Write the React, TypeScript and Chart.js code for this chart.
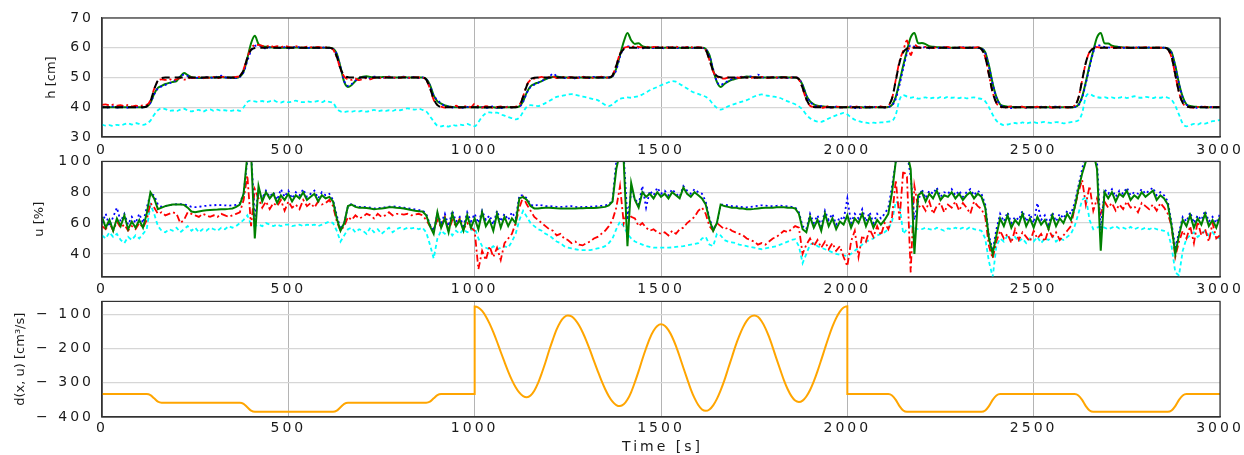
import { useEffect, useRef } from 'react';
import { Chart, registerables } from 'chart.js';

Chart.register(...registerables);

const FONT = "'DejaVu Sans', 'Liberation Sans', sans-serif";
const TXT = '#1a1a1a';

// ---------- time grid (10 s step) ----------
const T = Array.from({ length: 301 }, (_, i) => i * 10);
const X_TICKS = [0, 500, 1000, 1500, 2000, 2500, 3000];

// ---------- panel 1 : h [cm] ----------
const H_TICKS = [30, 40, 50, 60, 70];
const H_REF = [
  40,40,40,40,40,40,40,40,40,40,
  40,40,40.3,42,46,49,49.8,50,50,50,
  50,50,50,50,50,50,50,50,50,50,
  50,50,50,50,50,50,50,50.5,52.5,56.5,
  59.3,59.9,60,60,60,60,60,60,60,60,
  60,60,60,60,60,60,60,60,60,60,
  60,60,59.5,57,53,50.7,50.1,50,50,50,
  50,50,50,50,50,50,50,50,50,50,
  50,50,50,50,50,50,50,49.3,46.5,42.8,
  40.7,40.1,40,40,40,40,40,40,40,40,
  40,40,40,40,40,40,40,40,40,40,
  40,40,40.6,43.5,47.3,49.4,49.9,50,50,50,
  50,50,50,50,50,50,50,50,50,50,
  50,50,50,50,50,50,50,50.7,54,57.8,
  59.5,59.9,60,60,60,60,60,60,60,60,
  60,60,60,60,60,60,60,60,60,60,
  60,60,59.3,56,52.2,50.5,50.1,50,50,50,
  50,50,50,50,50,50,50,50,50,50,
  50,50,50,50,50,50,50,49.4,46.5,42.7,
  40.6,40.1,40,40,40,40,40,40,40,40,
  40,40,40,40,40,40,40,40,40,40,
  40,40.6,43,49,55,58.5,59.7,60,60,60,
  60,60,60,60,60,60,60,60,60,60,
  60,60,60,60,60,60,59.5,57,51,45,
  41.5,40.3,40,40,40,40,40,40,40,40,
  40,40,40,40,40,40,40,40,40,40,
  40,40.5,43,49,55,58.5,59.7,60,60,60,
  60,60,60,60,60,60,60,60,60,60,
  60,60,60,60,60,60,59.5,57,51,45,
  41.5,40.3,40,40,40,40,40,40,40,40,
  40,
];
const H_GREEN = [
  40,40,40,40,40,40,40,40,40,40,
  40,40,40.2,41.5,44.5,46.5,47.2,47.8,48.2,48.5,
  48.8,50.3,51.5,50.8,50.1,49.9,49.8,49.9,50,50,
  50,50.1,50.2,50,50,49.9,49.8,50.3,52,56.5,
  61.5,64,61.2,60.5,60.3,60.2,60.1,60,60,60,
  60,60,60.1,60,60,59.9,60,60,60,60,
  60,60,59.7,58,53.5,48.5,46.8,47.5,48.8,49.8,
  50.3,50.4,50.2,50,50,50.1,50.2,50,50,50,
  50,50.1,50,50,50,50,50,49.5,47.5,44,
  42,41.2,40.6,40.3,40.1,40,40,40,40,40,
  40,40,40,39.9,40,40,39.8,39.9,40,40,
  40,40,40.3,42,45,47,47.8,48.3,48.8,49.4,
  49.9,50.2,50.3,50.1,50,50,50,49.8,50,50,
  50,50,50,50,50,50,50,50.5,53,57.5,
  62,65,62.5,61.3,61.5,60.5,60.2,60.1,60,60,
  60,60,60.1,60,60,60,59.9,60,60,60,
  60,60,59.6,57.5,52.5,48.5,46.8,47.8,48.6,49.2,
  49.6,49.9,50.1,50.3,50.2,50.1,50,50,50,50,
  50,50,50.1,50.2,50,50,50,49.5,47.5,44,
  42,41,40.5,40.3,40.2,40.1,40,40,40,40,
  40,40,40,40,40,39.9,40,40,40,40,
  40,40.1,40.8,43.5,48.5,54,59,63.5,65,61.5,
  61.6,61.2,60.5,60.3,60.2,60.1,60,60,60,60,
  60,60,60,60,60,60,59.8,58.5,54,48,
  43.5,41,40.4,40.2,40.1,40,40,40,40,40,
  40,40,40,40,40,40,40,40,40,40,
  40,40.1,40.8,43.5,48.5,54,59,63.5,65,61.5,
  61.4,60.7,60.4,60.2,60.1,60,60,60,60,60,
  60,60,60,60,60,60,59.8,58.5,54,48,
  43.5,41,40.4,40.2,40.1,40,40,40,40,40,
  40,
];
const H_BLUE = [
  40.2,39.8,40.1,40.3,39.9,40,40.2,39.8,40.1,40,
  40.2,39.9,40.3,41.5,44.3,46.3,47,47.5,48,48.6,
  49.3,50.3,51,50.5,49.9,49.7,50.1,49.8,50.2,50,
  49.8,50.3,50.6,50.1,49.7,50,49.8,50.2,51.8,55.5,
  59,60.6,60.8,60.2,59.8,60.1,60.3,59.9,60,60.2,
  59.8,60,60.3,60.1,59.9,59.8,60.2,60,59.9,60.1,
  60,59.9,59.6,57.8,53.5,48.8,47.2,47.8,49,49.8,
  50.2,50,49.7,50.3,50.1,49.8,50,50.3,50,49.8,
  50.1,50.3,49.9,50,50.2,49.8,50,49.4,47.3,43.8,
  42.6,41.2,40.5,40.2,39.9,40.2,40,39.8,40.1,40,
  40.2,39.9,40,39.7,40.1,40.3,39.8,39.7,40,40.2,
  39.9,40.1,40.2,41.8,44.8,46.8,47.6,48.2,48.8,49.5,
  50.1,51.3,50.5,50,49.8,50.2,50.1,49.7,50,50.3,
  50,49.8,50.2,50,49.9,50.1,50,50.4,52.5,57,
  59.8,60.5,60.3,60.2,60,59.8,60.1,60,59.9,60.2,
  60,59.8,60.2,60.1,59.9,60,60.1,60.2,59.9,60,
  60.1,59.9,59.5,57.3,52.8,48.6,47.5,48.2,48.8,49.4,
  49.8,50.1,50.3,50,50.4,49.8,51,50.2,49.9,50,
  50.2,49.9,50,50.1,49.8,50,50.2,49.5,47.4,43.9,
  41.8,40.8,40.3,40.4,40.1,39.8,40,40.2,39.9,40,
  40.1,40.3,39.8,39.7,40,40.2,39.9,40.1,40,40.2,
  39.9,40.1,40.6,42.8,47.5,53,58,60.8,60.4,60.2,
  60,60.2,59.8,60.1,60,59.9,60.2,60,59.8,60.1,
  60,60.2,59.9,60,60.1,60,59.7,58.3,53.6,47.8,
  43.2,40.9,40.2,40,39.7,40.1,40,40.2,39.8,40,
  40.1,39.9,40.2,40,39.8,40.1,40.2,39.9,40,40.1,
  40,40.1,40.6,43.2,48,53.5,58.5,61,60.6,60.3,
  60.1,60,59.9,60.2,60,59.8,60.1,60,60.2,59.9,
  60,60.1,60,59.9,60.1,60,59.7,58.3,53.6,47.8,
  43.2,40.9,40.3,40,39.8,40.2,40,39.9,40.1,40,
  40,
];
const H_RED = [
  40.8,41,40.6,40.9,40.5,40.7,40.4,40.8,40.3,40.5,
  40.4,40.6,40.8,42.3,46.2,48.8,49.4,49.2,49.5,49.1,
  49.4,49.8,49.3,49.6,50,49.8,50.2,49.7,50,49.9,
  50.2,49.8,50.1,50.3,49.9,50,50.2,50.6,52.8,56.8,
  59.8,60.9,61,60.6,60.4,60.8,60.3,60.5,60.2,60.6,
  60.3,60.1,60.5,60.2,60,60.4,60.2,60.1,60.3,60,
  60.1,60,59.4,56.8,52.8,50.3,49.4,49.2,49.6,49.1,
  49.5,49.8,49.4,49.9,50.1,49.7,50,50.2,49.8,50.1,
  49.9,50.2,50,49.8,50.1,50,49.9,49.2,46.3,42.5,
  40.8,40.2,39.9,40.3,40.1,40.5,39.8,40.2,40.4,40,
  41.2,40.3,39.9,40.4,40.2,39.8,40.1,40.3,39.9,40.2,
  40,40.2,40.8,43.7,47.5,49.2,49.6,49.9,50.2,49.8,
  50.1,50.3,49.8,50,50.2,49.9,50.1,49.7,50,50.2,
  49.9,50.1,49.8,50,50.3,49.9,50.1,50.8,54.2,58,
  59.8,60.3,60.2,60.5,60.3,60.1,60.4,60,60.3,60.2,
  60.1,60.3,60,60.2,60.4,60.1,60,60.3,60.2,60,
  60.2,60,59.2,55.8,52,50.3,49.8,49.6,50,49.8,
  50.1,49.9,50.2,50,49.8,50.1,49.9,50.2,50,49.9,
  50.2,50,49.8,50.1,49.9,50,50.1,49.3,46.3,42.5,
  40.5,40.1,40.3,39.8,40,40.4,39.9,40.2,40.1,39.8,
  40.2,39.9,40.1,40.3,39.8,40,40.2,39.9,40.1,40.3,
  40,40.5,43,49.2,55.5,59,62.5,57.5,61,60.2,
  60,60.3,60.1,59.9,60.2,60,60.1,60.3,59.9,60,
  60.2,60,59.9,60.1,60,60.2,59.5,56.8,50.8,45,
  41.4,40.2,39.8,40.1,40.3,39.9,40,40.2,39.8,40.1,
  40,40.2,39.9,40.1,40.3,39.8,40,40.2,40.1,39.9,
  40.2,40.6,43.2,49,55,58.6,59.8,60.2,60,60.1,
  60,60.2,59.9,60.1,60,60.2,59.9,60,60.1,60,
  60.2,60,59.9,60.1,60,60,59.4,56.8,50.8,45,
  41.4,40.3,40,39.8,40.1,40,40.2,39.9,40,40.1,
  40,
];
const H_CYAN = [
  34.2,33.8,34,33.7,34.1,33.9,34.3,34.6,34.2,34.7,
  34.4,34.1,34.5,35.5,37.5,39,39.6,39.4,38.8,38.9,
  38.7,39.2,39.5,38.9,38.6,38.9,39.1,38.5,39,39.3,
  38.8,39.2,38.8,39,38.7,38.9,39.1,38.8,40,41.8,
  42.2,42,41.8,42.1,41.7,42,42.3,41.8,41.6,42,
  41.7,41.9,42.2,41.8,41.7,42,41.8,41.9,42.1,41.7,
  42.2,41.8,41.5,39.5,38.6,38.4,38.6,38.5,38.8,38.6,
  38.9,38.5,38.8,39.1,38.6,38.9,38.7,39,38.8,39.2,
  39,39.3,39.6,39.4,39.2,39.5,39.1,38.6,37,35.2,
  33.8,33.6,33.9,33.5,34.1,33.8,34.2,34,34.4,33.9,
  33.6,35,36.8,38,38.3,38.1,38.2,37.6,37.2,36.7,
  36.3,35.9,36.5,38.4,40.2,40.7,40.5,40.4,40.8,41.4,
  42.1,42.8,43.5,43.7,44,44.3,44.4,44.2,43.9,43.6,
  43.3,43,42.7,42.4,41.6,40.8,40.4,40.9,42,42.8,
  43.1,43.3,43.2,43.5,43.7,44.3,45,45.7,46.3,46.8,
  47.4,47.9,48.4,48.8,48.6,47.8,47.1,46.3,45.5,44.9,
  44.5,44,43.5,42.5,41,39.8,39.2,39.6,40.3,40.8,
  41.2,41.6,42,42.4,43,43.6,44.1,44.3,44,43.8,
  43.6,43.4,43.1,42.5,42,41.5,41,40.3,39.2,37.5,
  36.3,35.6,35.2,35.1,35.6,36.2,36.8,37.3,37.7,38.1,
  37.6,36.6,35.8,35.4,35,34.8,34.6,34.8,34.7,34.9,
  35,35.2,35.4,37.5,42.5,44.1,43.6,43.2,43.4,42.9,
  43.1,43.3,42.9,43.2,43,43.4,43.1,43.5,43.2,43.3,
  43.1,43.4,43,43.2,43.3,43,42.8,42,40,37.5,
  35.5,34.5,34,34.2,34.5,34.7,34.4,34.9,34.6,34.8,
  35,34.7,34.9,35.1,34.8,34.7,35,34.9,34.6,34.8,
  35,35.2,35.6,38,43.5,44.5,43.8,43.4,43.2,43.4,
  43.1,43.3,43,43.2,43.5,43.1,43.4,43.7,43.3,43.2,
  43.5,43.3,43.1,43.4,43.2,43.5,43.2,42.5,40.5,37.5,
  34.5,33.6,34,34.4,34.2,34.7,34.5,34.9,35.3,35.5,
  35.7,
];

// ---------- panel 2 : u [%] ----------
const U_TICKS = [40, 60, 80, 100];
const U_GREEN = [
  64,57,62,55,63,58,65,56,61,57,
  62,57,66,80,76,69,70,71,71.6,72,
  72,72,71.8,70,67.5,67,67.5,68,68.3,68.5,
  68.7,68.8,69,69,69.2,69.5,70.5,72,79,104,
  106,50,84,74,80,76,79,73,78,75,
  79,74,78,76,80,75,77,79,74,78,
  76,77,74,63,55,60,71,72,70.5,70,
  70,69.8,69.5,69,69.2,69.5,69.8,70.2,70.3,70,
  69.8,69.5,69,68.5,68,67.6,67.5,65,58,53,
  67,57,63,54,66,58,62,55,65,57,
  63,56,67,58,62,55,66,57,64,58,
  63,60,76,77,75,71,69.5,69.5,69.8,70,
  70,69.8,69.6,69.5,69.5,69.4,69.5,69.5,69.6,69.6,
  69.7,69.8,69.8,70,70.2,70.5,71.5,74,95,106,
  100,45,86,75,70,80,77,79,76,80,
  77,79,76,80,78,76,83,79,77,80,
  78,76,72,62,55,60,72,71,70.5,70,
  70,69.5,69.5,69,69,69.2,69.5,69.8,70,70,
  70,70.2,70.2,70.3,70,70,69.5,66,56,54,
  64,57,62,55,66,58,63,56,61,59,
  65,57,63,60,66,58,64,57,62,59,
  62,66,80,100,106,106,106,95,40,78,
  80,74,79,76,81,75,78,77,80,76,
  79,75,78,80,76,79,77,70,50,40,
  52,63,58,65,57,62,59,66,58,63,
  57,64,59,62,56,65,58,63,60,66,
  62,70,82,92,100,106,106,95,42,80,
  76,80,74,79,77,81,75,78,76,80,
  77,79,81,75,78,76,72,58,40,52,
  62,58,65,57,63,59,66,58,62,57,
  64,
];
const U_BLUE = [
  60,66,58,64,70,61,66,59,64,60,
  66,60,70,79,78,72,70.5,71,71.5,72,
  72.2,72.3,72,71.5,70.5,70.3,70.5,71,71.2,71.5,
  71.5,71.8,71.6,71.5,71.3,71.5,71.8,73,79,101,
  106,62,82,76,81,77,80,75,82,77,
  81,76,80,78,82,77,79,81,76,80,
  78,79,75,65,56,60,71,72.5,71,70.5,
  70.5,70.3,70,69.5,69.6,70,70.2,70.6,70.8,70.5,
  70.3,70,69.5,69.2,68.8,68.4,68.2,66,59,55,
  66,60,66,58,68,61,64,58,67,61,
  66,60,68,62,65,59,68,61,66,62,
  67,63,78,78,76,72,71,72,71.5,71,
  71,70.8,70.5,70.5,70.6,70.8,71,70.5,70.3,70.5,
  70.5,70.6,70.8,71,71.2,71.5,72,75,100,106,
  104,62,80,76,72,84,70,81,78,83,
  79,81,78,82,79,77,84,81,79,82,
  80,79,74,63,56,59,72,72,71.5,71,
  71,70.5,70.3,70.2,70.5,70.8,71.2,71.5,71.3,71,
  71,71.2,71.3,71,70.8,70.5,70.2,67,58,56,
  66,60,65,58,68,62,66,59,64,62,
  76,60,66,63,69,61,67,60,66,63,
  66,70,84,100,106,106,106,90,62,74,
  82,76,81,79,83,77,80,79,82,78,
  81,77,80,82,78,81,79,72,52,42,
  56,66,61,67,60,64,62,68,61,66,
  60,73,62,65,59,67,61,66,63,68,
  66,73,84,95,106,106,106,100,55,82,
  79,82,77,81,79,83,78,80,79,82,
  79,81,83,78,80,78,74,60,44,54,
  64,61,67,60,65,62,68,61,64,60,
  66,
];
const U_RED = [
  58,56,60,55,61,57,59,55,58,56,
  60,57,62,73,70,66,67,65,66,67,
  66,60,62,67,66,65,64,66,65,64,
  65,64,66,65,64,65,66,67,75,91,
  58,82,76,70,74,69,73,71,75,68,
  74,70,72,69,75,71,73,70,74,72,
  73,75,71,61,55,58,64,62,65,63,
  64,66,65,63,66,64,65,67,65,66,
  66,65.5,66,65,65.5,66,65,62,58,56,
  62,57,64,55,62,58,63,56,60,57,
  55,30,42,36,45,38,44,36,47,50,
  53,60,70,77,72,68,64,62,60,58,
  56,55,52,53,50,49,47,48,46,45.5,
  47,48,50,51,53,55,58,62,70,84,
  60,68,64,63,58,60,57,55,56,54,
  53,54,52,55,53,56,57,60,62,64,
  68,70,66,58,55,60,58,56,57,55,
  54,53,52,50,49,48,46,47,46,48,
  50,51,53,55,54,56,58,57,40,46,
  50,45,49,44,48,43,47,42,45,38,
  32,48,55,38,52,48,56,51,58,52,
  60,56,64,88,62,94,90,28,84,70,
  72,68,74,66,71,73,67,72,70,74,
  68,73,70,66,74,71,69,64,45,37,
  48,55,50,53,47,56,49,54,51,48,
  55,50,53,48,56,51,54,49,52,55,
  58,70,80,88,72,84,68,76,66,74,
  70,73,68,72,69,74,70,71,67,73,
  71,69,72,68,73,70,66,58,38,48,
  55,50,58,47,61,52,56,48,60,50,
  52,
];
const U_CYAN = [
  52,50,54,51,53,49,47,51,49,52,
  50,53,56,72,66,58,55,54,56,55,
  57,54,56,58,55,57,54,56,55,57,
  56,55,57,56,58,57,58,60,62,65,
  59,58,59,58,60,59,58,59,58,59,
  59,58,58.5,59,58,59,58.5,59,58,59,
  60,61,60,55,48,52,56,57,54,56,
  55,53,57,54,56,53,55,57,54,56,
  57,56,57,56.5,57,56,57,54,46,37,
  50,55,53,56,52,55,53,56,54,55,
  57,50,45,44,43,45,43,44,45,44,
  48,53,62,68,64,60,58,56,55,53,
  52,50,48,47,45,44,43.5,43,42.5,42.5,
  42.5,42.5,43,43.5,44,45,47,50,56,61,
  58,53,50,48,47,46,45,44.5,44,44,
  44,44,44,44.2,44.5,44.8,45,45.5,46,46.5,
  47,50,51,46,45,53,52,49,48,47.5,
  47,46,45.5,45,44.5,44,43.5,43,43.5,44,
  44.5,45,46,47,48,49,49.5,45,34,40,
  46,47,45,44,43,42,41,40,39.5,39,
  38.5,40,42,44,46,48,49,50,52,53,
  54,56,61,74,72,53,56,58,57,56,
  56,57,56,55.5,57,56,55,56.5,56,57,
  56,57,56,57.5,56,55.5,55,50,35,25,
  45,50,48,52,49,51,48,50,47,50,
  48,51,47,50,49,52,48,50,49,51,
  53,58,66,75,77,62,56,57,58,57,
  56,57,58,56.5,57,56,57.5,56,57,56,
  57,56,57,56,55.5,55,54,45,28,26,
  42,50,52,54,51,53,55,52,54,51,
  50,
];

// ---------- panel 3 : d(x,u) [cm^3/s] ----------
const D_TICKS = [-400, -300, -200, -100];
const D_T = [
  0,120,130,140,150,160,370,380,390,400,410,620,630,640,650,660,870,880,890,900,910,1000,
  1000,1010,1020,1030,1040,1050,1060,1070,1080,1090,
  1100,1110,1120,1130,1140,1150,1160,1170,1180,1190,
  1200,1210,1220,1230,1240,1250,1260,1270,1280,1290,
  1300,1310,1320,1330,1340,1350,1360,1370,1380,1390,
  1400,1410,1420,1430,1440,1450,1460,1470,1480,1490,
  1500,1510,1520,1530,1540,1550,1560,1570,1580,1590,
  1600,1610,1620,1630,1640,1650,1660,1670,1680,1690,
  1700,1710,1720,1730,1740,1750,1760,1770,1780,1790,
  1800,1810,1820,1830,1840,1850,1860,1870,1880,1890,
  1900,1910,1920,1930,1940,1950,1960,1970,1980,1990,
  2000,
  2000,2110,2120,2130,2140,2150,2160,2360,2370,2380,2390,2400,2410,
  2610,2620,2630,2640,2650,2660,2860,2870,2880,2890,2900,2910,3000,
];
const D_V = [
  -333,-333,-336,-345.5,-355,-358,-358,-361.5,-371.5,-381.5,-385,-385,-381.5,-371.5,-361.5,-358,-358,-355,-345.5,-336,-333,-333,
  -77,-80,-90,-106,-127,-152,-180,-210,-239,-267,
  -292,-313,-329,-339,-342,-337,-323,-301,-272,-240,
  -205,-173,-144,-122,-108,-103,-106,-116,-132,-153,
  -178,-206,-236,-265,-293,-318,-339,-355,-365,-368,
  -363,-349,-327,-298,-266,-231,-199,-170,-148,-134,
  -129,-133,-146,-166,-192,-223,-256,-288,-319,-345,
  -365,-378,-382,-378,-366,-347,-322,-293,-259,-226,
  -192,-163,-138,-119,-107,-103,-107,-120,-140,-166,
  -197,-230,-262,-293,-319,-339,-352,-356,-352,-340,
  -321,-296,-266,-233,-199,-166,-136,-111,-92,-80,
  -76,
  -333,-333,-337,-350,-368,-381,-385,-385,-381,-368,-350,-337,-333,
  -333,-337,-350,-368,-381,-385,-385,-381,-368,-350,-337,-333,-333,
];

// ---------- helpers ----------
const W = 1244;
const LEFT = 102;
const RIGHT_PAD = 24;
const TICK_SPACING = '3px';
const TICK_SIZE = 14;

const pts = (xs: number[], ys: number[]) => ys.map((y, i) => ({ x: xs[i], y }));

function line(label: string, data: any[], color: string, width: number, dash: number[], smooth: boolean) {
  return {
    label,
    data,
    borderColor: color,
    backgroundColor: color,
    borderWidth: width,
    borderDash: dash,
    pointRadius: 0,
    fill: false,
    tension: 0,
    cubicInterpolationMode: smooth ? 'monotone' : 'default',
    clip: 0,
  };
}

type PanelSpec = {
  top: number;
  height: number;
  padTop: number;
  axisH: number;
  xPad: number;
  yMin: number;
  yMax: number;
  yTicks: number[];
  yTitle: string;
  yTitleX: number;
  xTitle?: string;
  xTitleY?: number;
  datasets: any[];
  fmt?: (v: number) => string;
};

function framePlugin(spec: PanelSpec) {
  return {
    id: 'frame',
    beforeDraw(chart: any) {
      chart.ctx.letterSpacing = TICK_SPACING;
    },
    afterDraw(chart: any) {
      const { ctx, chartArea: a } = chart;
      ctx.save();
      ctx.letterSpacing = '0px';
      ctx.strokeStyle = '#333333';
      ctx.lineWidth = 1.2;
      ctx.strokeRect(a.left, a.top, a.right - a.left, a.bottom - a.top);
      ctx.fillStyle = TXT;
      ctx.font = `13px ${FONT}`;
      ctx.textAlign = 'center';
      ctx.textBaseline = 'middle';
      ctx.save();
      ctx.translate(spec.yTitleX, (a.top + a.bottom) / 2);
      ctx.rotate(-Math.PI / 2);
      ctx.fillText(spec.yTitle, 0, 0);
      ctx.restore();
      if (spec.xTitle) {
        ctx.letterSpacing = TICK_SPACING;
        ctx.font = `${TICK_SIZE}px ${FONT}`;
        ctx.fillText(spec.xTitle, (a.left + a.right) / 2 + 1.5, spec.xTitleY);
      }
      ctx.restore();
    },
  };
}

function Panel({ spec }: { spec: PanelSpec }) {
  const ref = useRef<HTMLCanvasElement | null>(null);
  useEffect(() => {
    if (!ref.current) return;
    const chart = new Chart(ref.current, {
      type: 'line',
      data: { datasets: spec.datasets },
      plugins: [framePlugin(spec)],
      options: {
        responsive: false,
        animation: false,
        devicePixelRatio: 1,
        events: [],
        layout: { padding: { left: 0, right: RIGHT_PAD, top: spec.padTop, bottom: 0 } },
        plugins: { legend: { display: false }, tooltip: { enabled: false }, title: { display: false } },
        scales: {
          x: {
            type: 'linear',
            min: 0,
            max: 3000,
            afterBuildTicks: (s: any) => {
              s.ticks = X_TICKS.map((v) => ({ value: v }));
            },
            ticks: {
              autoSkip: false,
              maxRotation: 0,
              padding: spec.xPad,
              color: TXT,
              font: { family: FONT, size: TICK_SIZE },
              callback: (v: any) => String(v),
            },
            grid: { color: '#b4b4b4', lineWidth: 1, drawTicks: false },
            border: { display: true, color: '#333333', width: 1.2 },
            afterFit: (s: any) => {
              s.height = spec.axisH;
            },
          },
          y: {
            type: 'linear',
            min: spec.yMin,
            max: spec.yMax,
            afterBuildTicks: (s: any) => {
              s.ticks = spec.yTicks.map((v) => ({ value: v }));
            },
            ticks: {
              padding: 8,
              color: TXT,
              font: { family: FONT, size: TICK_SIZE },
              callback: (v: any) => (spec.fmt ? spec.fmt(Number(v)) : String(v)),
            },
            grid: { color: '#d6d6d6', lineWidth: 1.3, drawTicks: false },
            border: { display: true, color: '#333333', width: 1.2 },
            afterFit: (s: any) => {
              s.width = LEFT;
            },
          },
        },
      } as any,
    });
    return () => chart.destroy();
  }, []);
  return (
    <canvas
      ref={ref}
      width={W}
      height={spec.height}
      style={{ position: 'absolute', left: 0, top: spec.top, width: W, height: spec.height }}
    />
  );
}

const panel1: PanelSpec = {
  top: 0,
  height: 160,
  padTop: 18,
  axisH: 23,
  xPad: 5,
  yMin: 30,
  yMax: 70,
  yTicks: H_TICKS,
  yTitle: 'h [cm]',
  yTitleX: 52,
  datasets: [
    line('reference', pts(T, H_REF), '#000000', 2, [8, 5], true),
    line('red', pts(T, H_RED), '#ff0000', 1.8, [7, 3, 2, 3], true),
    line('blue', pts(T, H_BLUE), '#0000ff', 1.8, [2, 3], true),
    line('green', pts(T, H_GREEN), '#008000', 2, [], true),
    line('cyan', pts(T, H_CYAN), '#00ffff', 1.8, [4, 3], true),
  ],
};

const panel2: PanelSpec = {
  top: 145,
  height: 155,
  padTop: 13,
  axisH: 23,
  xPad: 4,
  yMin: 25,
  yMax: 100,
  yTicks: U_TICKS,
  yTitle: 'u [%]',
  yTitleX: 40,
  datasets: [
    line('green', pts(T, U_GREEN), '#008000', 2, [], false),
    line('blue', pts(T, U_BLUE), '#0000ff', 1.8, [2, 3], false),
    line('red', pts(T, U_RED), '#ff0000', 1.8, [7, 3, 2, 3], false),
    line('cyan', pts(T, U_CYAN), '#00ffff', 1.8, [4, 3], false),
  ],
};

const panel3: PanelSpec = {
  top: 285,
  height: 170,
  padTop: 14,
  axisH: 38,
  xPad: 3,
  yMin: -400,
  yMax: -62,
  yTicks: D_TICKS,
  yTitle: 'd(x, u) [cm³/s]',
  yTitleX: 21,
  xTitle: 'Time [s]',
  xTitleY: 162,
  fmt: (v: number) => (v < 0 ? '\u2212 ' + Math.abs(v) : String(v)),
  datasets: [line('d', pts(D_T, D_V), '#ffa500', 2, [], true)],
};

export default function App() {
  return (
    <div style={{ position: 'absolute', left: 0, top: 0, width: W, height: 455, background: '#ffffff' }}>
      <Panel spec={panel3} />
      <Panel spec={panel2} />
      <Panel spec={panel1} />
    </div>
  );
}
